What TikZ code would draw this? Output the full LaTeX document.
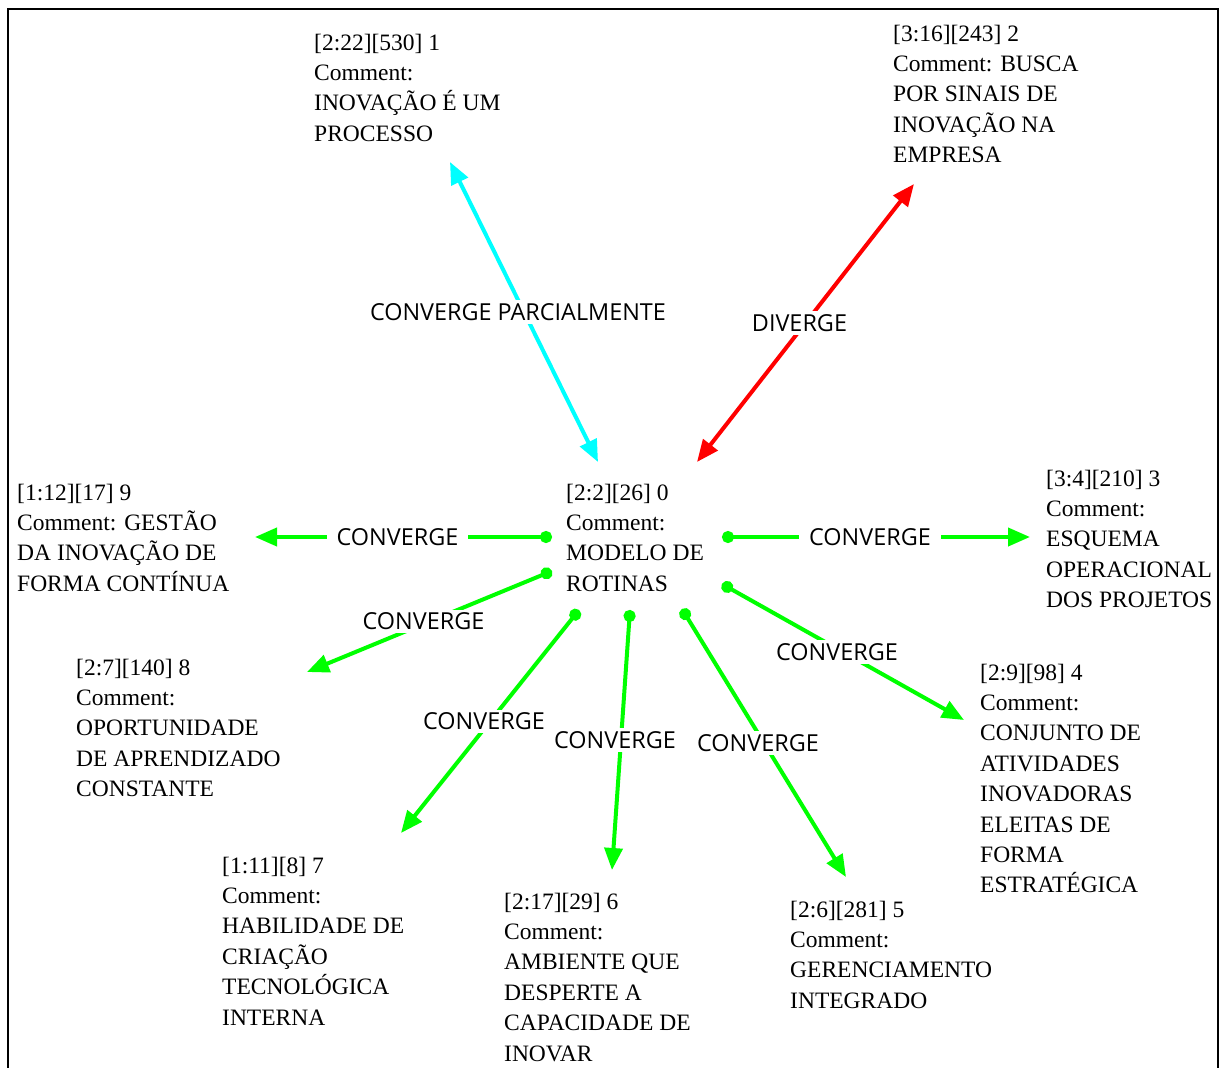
\documentclass[tikz,border=0pt]{standalone}
\usepackage{fontspec}
\setmainfont{Liberation Serif}
\newfontfamily\lblfont{Open Sans}
\usetikzlibrary{arrows.meta}
\definecolor{cgreen}{HTML}{00FF00}
\definecolor{ccyan}{HTML}{00FFFF}
\definecolor{cred}{HTML}{FF0000}
\begin{document}
\begin{tikzpicture}[x=1pt,y=-1pt,
 txt/.style={font=\fontsize{23.5}{30.4}\selectfont, align=left, inner sep=0pt, anchor=base west},
 lbl/.style={font=\lblfont\fontsize{23.4}{28}\selectfont, fill=white, inner xsep=10pt, inner ysep=3pt, xshift=-6pt, text=black},
 link/.style={line width=4pt},
 conv/.style={link, draw=cgreen, {Circle[length=12pt]}-{Triangle[length=22pt,width=18pt]}},
 both/.style={link, {Triangle[length=22pt,width=18pt]}-{Triangle[length=22pt,width=18pt]}},
]
\useasboundingbox (0,0) rectangle (1227,1068);
\draw[line width=2pt] (8,1075) -- (8,9) -- (1218,9) -- (1218,1075);

% nodes placed by the baseline of their last line
\node[txt] (n0) at (566,591.2) {[2:2][26] 0\\Comment:\\MODELO DE\\ROTINAS};
\node[txt] (n1) at (314,141.2) {[2:22][530] 1\\Comment:\\INOVAÇÃO É UM\\PROCESSO};
\node[txt] (n2) at (893,162.6) {[3:16][243] 2\\Comment: BUSCA\\POR SINAIS DE\\INOVAÇÃO NA\\EMPRESA};
\node[txt] (n9) at (17,591.2) {[1:12][17] 9\\Comment: GESTÃO\\DA INOVAÇÃO DE\\FORMA CONTÍNUA};
\node[txt] (n3) at (1046,607.6) {[3:4][210] 3\\Comment:\\ESQUEMA\\OPERACIONAL\\DOS PROJETOS};
\node[txt] (n8) at (76,796.6) {[2:7][140] 8\\Comment:\\OPORTUNIDADE\\DE APRENDIZADO\\CONSTANTE};
\node[txt] (n4) at (980,892.8) {[2:9][98] 4\\Comment:\\CONJUNTO DE\\ATIVIDADES\\INOVADORAS\\ELEITAS DE\\FORMA\\ESTRATÉGICA};
\node[txt] (n7) at (222,1025) {[1:11][8] 7\\Comment:\\HABILIDADE DE\\CRIAÇÃO\\TECNOLÓGICA\\INTERNA};
\node[txt] (n6) at (504,1061) {[2:17][29] 6\\Comment:\\AMBIENTE QUE\\DESPERTE A\\CAPACIDADE DE\\INOVAR};
\node[txt] (n5) at (790,1008.2) {[2:6][281] 5\\Comment:\\GERENCIAMENTO\\INTEGRADO};

\draw[both, draw=ccyan] ([shift={(32,-129.2)}]n0.base west) -- node[lbl]{CONVERGE PARCIALMENTE} ([shift={(136,20.8)}]n1.base west);
\draw[both, draw=cred] ([shift={(131,-129.2)}]n0.base west) -- node[lbl]{DIVERGE} ([shift={(21,21.4)}]n2.base west);
\draw[conv] ([shift={(-14,-54.2)}]n0.base west) -- node[lbl]{CONVERGE} ([shift={(238,-54.2)}]n9.base west);
\draw[conv] ([shift={(156,-54.2)}]n0.base west) -- node[lbl]{CONVERGE} ([shift={(-16,-70.6)}]n3.base west);
\draw[conv] ([shift={(-14,-20.2)}]n0.base west) -- node[lbl]{CONVERGE} ([shift={(231,-124.6)}]n8.base west);
\draw[conv] ([shift={(13,18.8)}]n0.base west) -- node[lbl]{CONVERGE} ([shift={(179,-192)}]n7.base west);
\draw[conv] ([shift={(64,18.8)}]n0.base west) -- node[lbl]{CONVERGE} ([shift={(108,-191)}]n6.base west);
\draw[conv] ([shift={(116,17.8)}]n0.base west) -- node[lbl]{CONVERGE} ([shift={(56,-131.2)}]n5.base west);
\draw[conv] ([shift={(156,-7.2)}]n0.base west) -- node[lbl]{CONVERGE} ([shift={(-16,-172.8)}]n4.base west);
\end{tikzpicture}
\end{document}
